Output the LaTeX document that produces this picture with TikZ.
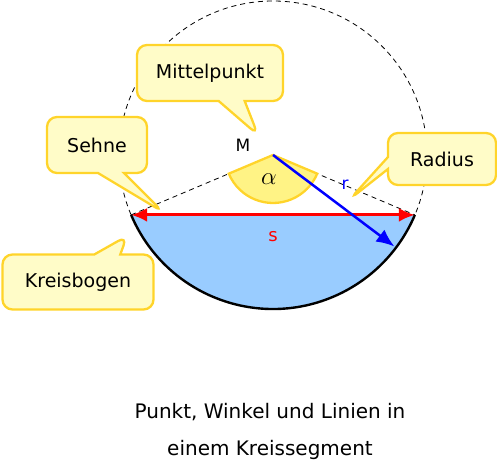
\documentclass[tikz,border=0pt]{standalone}
\usepackage{fontspec}
\setmainfont{DejaVu Sans}
\usetikzlibrary{calc,shapes.callouts,arrows.meta}
\definecolor{bubblefill}{HTML}{FFFCC8}
\definecolor{bubbleline}{HTML}{FFD42A}
\definecolor{segblue}{HTML}{99CCFF}
\definecolor{wedgefill}{HTML}{FFF385}
\tikzset{
	bubble/.style={rectangle callout, draw=bubbleline, fill=bubblefill, line width=2.3pt,
		rounded corners=10pt, inner sep=0pt, callout pointer width=26pt,
		font=\fontsize{19}{22}\selectfont},
	helpline/.style={dash pattern=on 5pt off 4pt, line width=0.8pt},
}

\begin{document}
\begin{tikzpicture}[x=1pt,y=1pt]
	\useasboundingbox (0,0) rectangle (497,471);
	%circle and its points
	\coordinate (M) at (273,316);
	\coordinate (A) at ($(M)+(202.9:154)$);
	\coordinate (B) at ($(M)+(337.1:154)$);
	\coordinate (R) at ($(M)+(-37:152)$);
	\draw[helpline] (M) circle[radius=154];		%whole circle
	
	%segment
	\fill[segblue] (A) arc[start angle=202.9, end angle=337.1, radius=154] -- cycle;
	\draw[line width=2.4pt] (A) arc[start angle=202.9, end angle=337.1, radius=154];
	\draw[helpline] (A) -- (M) -- (B);				%radii to chord
	
	%angle wedge
	\filldraw[fill=wedgefill, draw=bubbleline, line width=2.3pt] (M) -- ++(202.9:48)
		arc[start angle=202.9, end angle=337.1, radius=48] -- cycle;
	\node (alpha) at (269,292) {\fontsize{30}{32}\selectfont $\alpha$};
	\node (Mlabel) at (243,326) {\fontsize{17}{20}\selectfont M};
	
	%chord and radius
	\draw[red, line width=3pt, {Latex[length=16pt,width=14pt]}-{Latex[length=16pt,width=14pt]}] (A) -- (B);
	\draw[blue, line width=2.5pt, -{Latex[length=18pt,width=15pt]}] (M) -- (R);
	\node[red] (slabel) at (273,234) {\fontsize{18}{20}\selectfont s};
	\node[blue] (rlabel) at (345,286) {\fontsize{17}{20}\selectfont r};
	
	%callouts
	\node[bubble, minimum width=146pt, minimum height=56pt, callout absolute pointer={(258,336)}] (mittel) at (210,398) {Mittelpunkt};
	\node[bubble, minimum width=100pt, minimum height=56pt, callout absolute pointer={(163,259)}] (sehne) at (97,326) {Sehne};
	\node[bubble, minimum width=108pt, minimum height=52pt, callout pointer width=12pt, callout absolute pointer={(350,272)}] (radius) at (442,312) {Radius};
	\node[bubble, minimum width=151pt, minimum height=55pt, callout absolute pointer={(127,235)}] (bogen) at (78,189) {Kreisbogen};
	
	%title
	\node (title1) at (270,59) {\fontsize{20}{24}\selectfont Punkt, Winkel und Linien in};
	\node (title2) at (270,21) {\fontsize{20}{24}\selectfont einem Kreissegment};
\end{tikzpicture}
\end{document}
